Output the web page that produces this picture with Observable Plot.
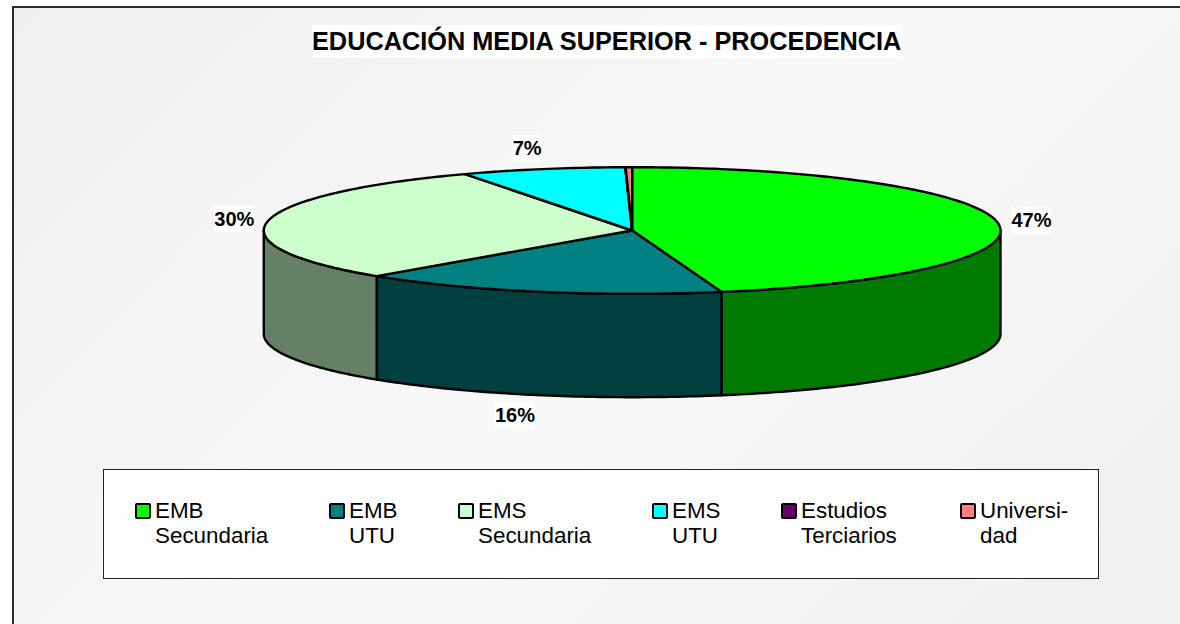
<!DOCTYPE html>
<html lang="es">
<head>
<meta charset="utf-8">
<script src="https://cdn.jsdelivr.net/npm/d3@7"></script>
<script src="https://cdn.jsdelivr.net/npm/@observablehq/plot@0.6"></script>
<style>
  html, body { margin: 0; padding: 0; background: #fff; }
  #page { position: relative; width: 1180px; height: 624px; overflow: hidden; font-family: "Liberation Sans", Arial, sans-serif; color: #000; }
  #frame { position: absolute; left: 12px; top: 6px; width: 1180px; height: 640px; box-sizing: border-box; border: 2px solid #2a2a2a;
           background: linear-gradient(135deg, #efefef 0%, #f8f8f8 50%, #efefef 100%); }
  #chart { position: absolute; left: 0; top: 0; }
  #chart svg { background: transparent; display: block; }
  #title { position: absolute; left: 312px; top: 25px; width: 589px; height: 33px; line-height: 33px; background: #fff; text-align: center; font-weight: bold; font-size: 25.3px; white-space: nowrap; }
  #legend { position: absolute; left: 103px; top: 469px; width: 996px; height: 110px; box-sizing: border-box; border: 1px solid #222; background: #fff; }
  .swatch { position: absolute; top: 33px; width: 16px; height: 16px; box-sizing: border-box; border: 2px solid #000; border-radius: 2px; }
  .label { position: absolute; top: 28px; font-size: 22.4px; line-height: 25px; white-space: pre; }
</style>
</head>
<body>
<div id="page">
  <div id="frame"></div>
  <div id="chart"></div>
  <div id="title">EDUCACIÓN MEDIA SUPERIOR - PROCEDENCIA</div>
  <div id="legend"></div>
</div>
<script>
// Data
const categories = ["EMB\nSecundaria", "EMB\nUTU", "EMS\nSecundaria", "EMS\nUTU", "Estudios\nTerciarios", "Universi-\ndad"];
const shares = [46.1, 16.1, 30.3, 7.2, 0.02, 0.28];
const shareLabels = ["47%", "16%", "30%", "7%", "", ""];
const topColors = ["#00ff00", "#008080", "#ccffcc", "#00ffff", "#660066", "#ff8080"];
const sideColors = ["#007a00", "#003f3f", "#668066", "#007f7f", "#330033", "#804040"];

// Label anchors in pie units (1 = pie radius on each axis)
const labelX = [1.084, -0.318, -1.08, -0.285];
const labelY = [0.15, -2.925, 0.175, 1.295];

// Pie geometry: unit circle flattened by the x/y scale ranges
const rx = 368.3, ry = 63.3, depth = 103.4 / ry;
const toRad = d => d * Math.PI / 180;
const px = (deg, lift = 0) => ({x: Math.sin(toRad(deg)), y: Math.cos(toRad(deg)) - lift});
const arc = (a, b, lift = 0) => {
  const n = Math.max(2, Math.ceil(Math.abs(b - a) / 1));
  return d3.range(n + 1).map(i => px(a + (b - a) * i / n, lift));
};

let start = 0;
const slices = shares.map((v, i) => {
  const s = {a: start, b: start + v * 3.6, i};
  start = s.b;
  return s;
});

// Top faces
const tops = slices.map(s => {
  const pts = [{x: 0, y: 0}, ...arc(s.a, s.b), {x: 0, y: 0}];
  return {pts, fill: topColors[s.i]};
});

// Visible rim: the front half of the pie only (90° to 270°)
const rims = slices
  .filter(s => s.b > 90 && s.a < 270)
  .map(s => {
    const a = Math.max(s.a, 90), b = Math.min(s.b, 270);
    const upper = arc(a, b), lower = arc(b, a, depth);
    return {pts: [...upper, ...lower, upper[0]], fill: sideColors[s.i]};
  });

const poly = ({pts, fill}) => Plot.line(pts, {
  x: "x", y: "y", fill, stroke: "#000", strokeWidth: 2.4, strokeLinejoin: "round", curve: "linear"
});

const labelRows = shareLabels.slice(0, 4).map((text, i) => ({text, x: labelX[i], y: labelY[i]}));
const boxW = d => (d.text.length === 2 ? 14.5 : 20) / rx;
const boxH = 13.5 / ry;

const plot = Plot.plot({
  width: 1180,
  height: 624,
  margin: 0,
  style: {background: "transparent", overflow: "visible"},
  x: {domain: [-1, 1], range: [263.3, 1000], axis: null},
  y: {domain: [-1, 1], range: [293.3, 166.7], axis: null},
  marks: [
    ...rims.map(poly),
    ...tops.map(poly),
    Plot.rect(labelRows, {
      x1: d => d.x - boxW(d), x2: d => d.x + boxW(d),
      y1: d => d.y - boxH, y2: d => d.y + boxH,
      fill: "#fff"
    }),
    Plot.text(labelRows, {
      x: "x", y: "y", text: "text",
      fontFamily: "Liberation Sans, Arial, sans-serif",
      fontWeight: "bold", fontSize: 20, fill: "#000"
    })
  ]
});
document.getElementById("chart").appendChild(plot);

// Legend
const legend = document.getElementById("legend");
const legendLeft = [31, 225, 354, 548, 677, 856];
categories.forEach((c, i) => {
  const sw = document.createElement("div");
  sw.className = "swatch";
  sw.style.left = legendLeft[i] + "px";
  sw.style.background = topColors[i];
  legend.appendChild(sw);
  const lb = document.createElement("div");
  lb.className = "label";
  lb.style.left = (legendLeft[i] + 20) + "px";
  lb.textContent = c;
  legend.appendChild(lb);
});
</script>
</body>
</html>
